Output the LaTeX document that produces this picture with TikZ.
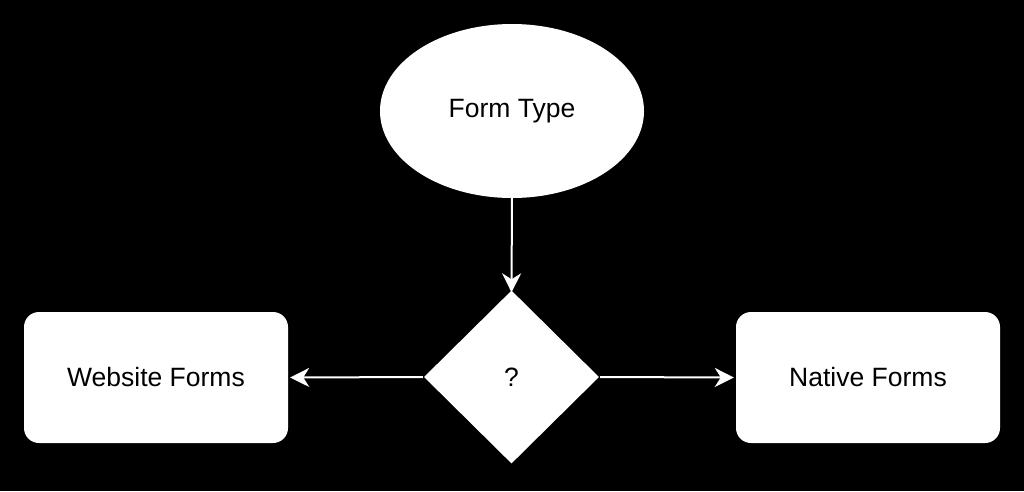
\documentclass[tikz,border=0pt]{standalone}
\usepackage{fontspec}
\setmainfont{Liberation Sans}
\usetikzlibrary{shapes.geometric,arrows.meta}
\tikzset{
  base/.style={fill=white, draw=none, inner sep=0pt, font=\fontsize{26.5}{31}\selectfont, text=black},
  startnode/.style={base, ellipse, minimum width=264pt, minimum height=174pt},
  decision/.style={base, diamond, minimum width=175pt, minimum height=173pt},
  outbox/.style={base, rectangle, rounded corners=15pt, minimum width=264pt, minimum height=131pt},
  conn/.style={draw=white, line width=2pt, -{Stealth[length=19pt,width=19pt,inset=6pt]}}
}
\begin{document}
\begin{tikzpicture}[x=1pt,y=-1pt]
\fill[black] (0,0) rectangle (1024,491);
\useasboundingbox (0,0) rectangle (1024,491);
\node[startnode] (form) at (512,111) {Form Type};
\node[decision] (q) at (511.5,377) {?};
\node[outbox] (web) at (156,377.5) {Website Forms};
\node[outbox] (native) at (868,377.5) {Native Forms};
\draw[conn] ([yshift=3pt]form.south) -- ([yshift=-2pt]q.north);
\draw[conn] ([xshift=-1pt]q.west) -- ([xshift=2pt]web.east);
\draw[conn] ([xshift=1pt]q.east) -- ([xshift=-2pt]native.west);
\end{tikzpicture}
\end{document}
